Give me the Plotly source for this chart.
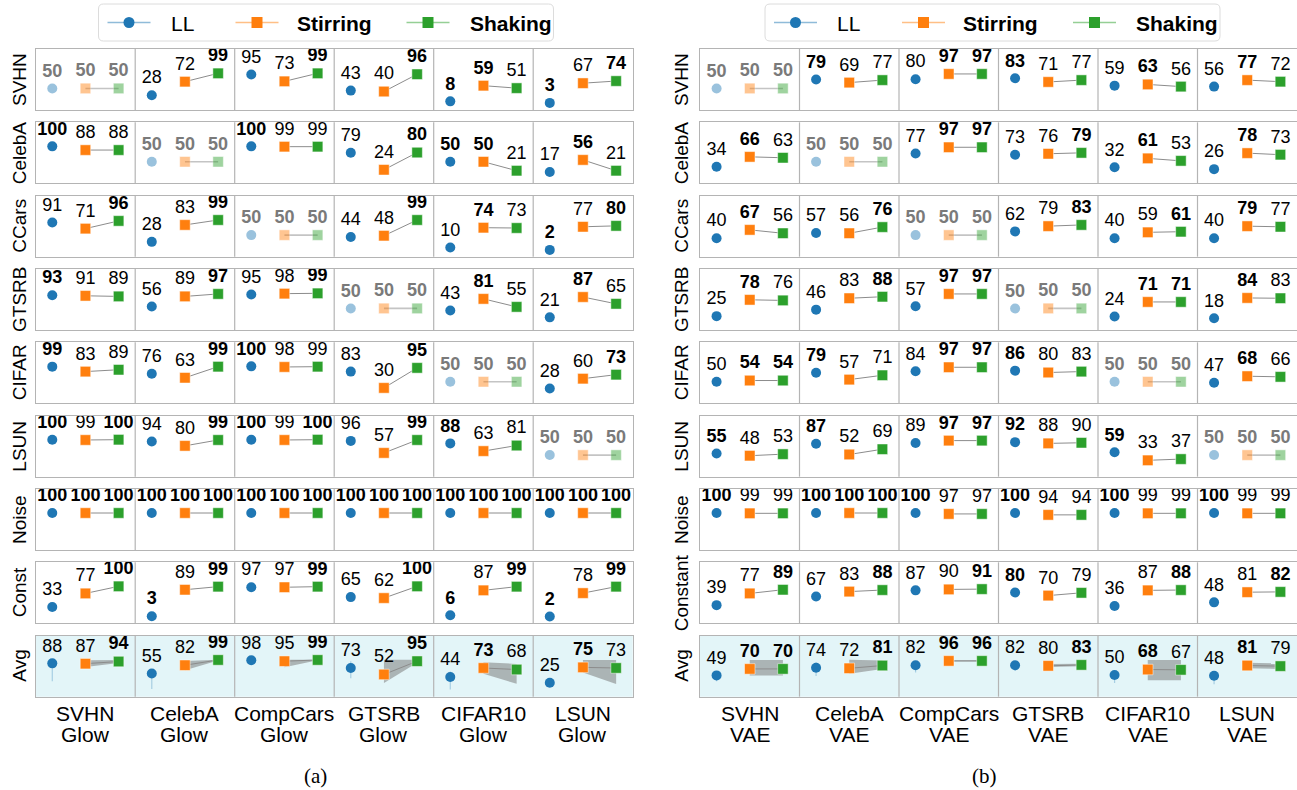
import plotly.graph_objects as go

# ---------------- data ----------------
row_names_glow = ["SVHN", "CelebA", "CCars", "GTSRB", "CIFAR", "LSUN", "Noise", "Const", "Avg"]
row_names_vae = ["SVHN", "CelebA", "CCars", "GTSRB", "CIFAR", "LSUN", "Noise", "Constant", "Avg"]
col_datasets = ["SVHN", "CelebA", "CompCars", "GTSRB", "CIFAR10", "LSUN"]
series_names = ["LL", "Stirring", "Shaking"]

# Glow: rows = test (OOD) set, columns = training set
ll_glow = [
    [50, 28, 95, 43, 8, 3],
    [100, 50, 100, 79, 50, 17],
    [91, 28, 50, 44, 10, 2],
    [93, 56, 95, 50, 43, 21],
    [99, 76, 100, 83, 50, 28],
    [100, 94, 100, 96, 88, 50],
    [100, 100, 100, 100, 100, 100],
    [33, 3, 97, 65, 6, 2],
    [88, 55, 98, 73, 44, 25],
]
stir_glow = [
    [50, 72, 73, 40, 59, 67],
    [88, 50, 99, 24, 50, 56],
    [71, 83, 50, 48, 74, 77],
    [91, 89, 98, 50, 81, 87],
    [83, 63, 98, 30, 50, 60],
    [99, 80, 99, 57, 63, 50],
    [100, 100, 100, 100, 100, 100],
    [77, 89, 97, 62, 87, 78],
    [87, 82, 95, 52, 73, 75],
]
shake_glow = [
    [50, 99, 99, 96, 51, 74],
    [88, 50, 99, 80, 21, 21],
    [96, 99, 50, 99, 73, 80],
    [89, 97, 99, 50, 55, 65],
    [89, 99, 99, 95, 50, 73],
    [100, 99, 100, 99, 81, 50],
    [100, 100, 100, 100, 100, 100],
    [100, 99, 99, 100, 99, 99],
    [94, 99, 99, 95, 68, 73],
]
# bold marks: L = LL, S = Stirring, K = Shaking
bold_glow = [
    ["", "K", "K", "K", "LS", "LK"],
    ["L", "", "L", "K", "LS", "S"],
    ["K", "K", "", "K", "S", "LK"],
    ["L", "K", "K", "", "S", "S"],
    ["L", "K", "L", "K", "", "K"],
    ["LK", "K", "LK", "K", "L", ""],
    ["LSK"] * 6,
    ["K", "LK", "K", "K", "LK", "LK"],
    ["K", "K", "K", "K", "S", "S"],
]
# spread of the averages: (stir lo, stir hi, shake lo, shake hi) and LL (lo, hi)
avg_band_glow = [(76, 98, 89, 99), (66, 96, 97, 100), (75, 100, 98, 100),
                 (24, 100, 90, 100), (54, 92, 22, 86), (58, 99, 21, 99)]
avg_ll_range_glow = [(30, 88), (5, 60), (90, 98), (40, 95), (3, 62), (15, 30)]

ll_vae = [
    [50, 79, 80, 83, 59, 56],
    [34, 50, 77, 73, 32, 26],
    [40, 57, 50, 62, 40, 40],
    [25, 46, 57, 50, 24, 18],
    [50, 79, 84, 86, 50, 47],
    [55, 87, 89, 92, 59, 50],
    [100, 100, 100, 100, 100, 100],
    [39, 67, 87, 80, 36, 48],
    [49, 74, 82, 82, 50, 48],
]
stir_vae = [
    [50, 69, 97, 71, 63, 77],
    [66, 50, 97, 76, 61, 78],
    [67, 56, 50, 79, 59, 79],
    [78, 83, 97, 50, 71, 84],
    [54, 57, 97, 80, 50, 68],
    [48, 52, 97, 88, 33, 50],
    [99, 100, 97, 94, 99, 99],
    [77, 83, 90, 70, 87, 81],
    [70, 72, 96, 80, 68, 81],
]
shake_vae = [
    [50, 77, 97, 77, 56, 72],
    [63, 50, 97, 79, 53, 73],
    [56, 76, 50, 83, 61, 77],
    [76, 88, 97, 50, 71, 83],
    [54, 71, 97, 83, 50, 66],
    [53, 69, 97, 90, 37, 50],
    [99, 100, 97, 94, 99, 99],
    [89, 88, 91, 79, 88, 82],
    [70, 81, 96, 83, 67, 79],
]
bold_vae = [
    ["", "L", "SK", "L", "S", "S"],
    ["S", "", "SK", "K", "S", "S"],
    ["S", "K", "", "K", "K", "S"],
    ["S", "K", "SK", "", "SK", "S"],
    ["SK", "L", "SK", "L", "", "S"],
    ["L", "L", "SK", "L", "L", ""],
    ["L", "LSK", "L", "L", "L", "L"],
    ["K", "K", "K", "L", "K", "K"],
    ["SK", "K", "SK", "K", "S", "S"],
]
avg_band_vae = [(49, 99, 49, 99), (54, 100, 70, 97), (94, 98, 94, 98),
                (76, 86, 79, 87), (33, 99, 33, 99), (72, 90, 70, 88)]
avg_ll_range_vae = [(30, 52), (47, 92), (58, 85), (63, 85), (24, 60), (20, 55)]

# ---------------- styling ----------------
W, H = 1297, 790
FONT = "Liberation Sans"
C_LL, C_ST, C_SH = "#1f77b4", "#ff7f0e", "#2ca02c"
LIGHT = ["rgba(31,119,180,0.5)", "rgba(255,127,14,0.5)", "rgba(44,160,44,0.5)"]
BORDER = "#b4b4b4"
AVG_BG = "#e3f5f8"
ROW_TOP0, ROW_PITCH, ROW_H = 49.0, 73.33, 61.0
Y_RANGE = [-20, 178]
X_RANGE = [-0.5, 17.5]

panels = [
    dict(model="Glow", rows=row_names_glow, ll=ll_glow, st=stir_glow, sh=shake_glow,
         bold=bold_glow, band=avg_band_glow, llr=avg_ll_range_glow,
         left=35.7, right=632.7, label_x=19.5, tag="(a)", tag_x=315, legend_left=98.5),
    dict(model="VAE", rows=row_names_vae, ll=ll_vae, st=stir_vae, sh=shake_vae,
         bold=bold_vae, band=avg_band_vae, llr=avg_ll_range_vae,
         left=700.0, right=1297.0, label_x=681.5, tag="(b)", tag_x=984, legend_left=765),
]

fig = go.Figure()
shapes, annotations = [], []


def px_x(v):
    return v / W


def px_y(v):
    return 1 - v / H


def fmt(v, bold):
    return f"<b>{v}</b>" if bold else str(v)


for p, P in enumerate(panels):
    for r, rname in enumerate(P["rows"]):
        k = p * 9 + r + 1
        xs = "x" if k == 1 else f"x{k}"
        ys = "y" if k == 1 else f"y{k}"
        top = ROW_TOP0 + ROW_PITCH * r
        bot = top + ROW_H
        fig.layout[("xaxis" if k == 1 else f"xaxis{k}")] = dict(
            domain=[px_x(P["left"]), px_x(P["right"])], range=X_RANGE, anchor=ys,
            showline=True, mirror=True, linecolor=BORDER, linewidth=1.2,
            showgrid=False, zeroline=False, showticklabels=False, ticks="")
        fig.layout[("yaxis" if k == 1 else f"yaxis{k}")] = dict(
            domain=[px_y(bot), px_y(top)], range=Y_RANGE, anchor=xs,
            showline=True, mirror=True, linecolor=BORDER, linewidth=1.2,
            showgrid=False, zeroline=False, showticklabels=False, ticks="")

        is_avg = r == 8
        if is_avg:
            shapes.append(dict(type="rect", xref=f"{xs} domain", yref=f"{ys} domain",
                               x0=0, x1=1, y0=0, y1=1, fillcolor=AVG_BG,
                               line=dict(width=0), layer="below"))
        for j in range(1, 6):
            shapes.append(dict(type="line", xref=xs, yref=f"{ys} domain",
                               x0=3 * j - 0.5, x1=3 * j - 0.5, y0=0, y1=1,
                               line=dict(color=BORDER, width=1.2)))

        # row label
        annotations.append(dict(text=rname, xref="paper", yref="paper",
                                x=px_x(P["label_x"]), y=px_y(top + ROW_H / 2),
                                textangle=-90, showarrow=False,
                                font=dict(family=FONT, size=19, color="black"),
                                xanchor="center", yanchor="middle"))

        ll, st, sh, bd = P["ll"][r], P["st"][r], P["sh"][r], P["bold"][r]
        diag = [(r == j) for j in range(6)]

        # spread bands for averages
        if is_avg:
            for j in range(6):
                slo, shi, klo, khi = P["band"][j]
                fig.add_trace(go.Scatter(
                    x=[3 * j + 1, 3 * j + 2, 3 * j + 2, 3 * j + 1, 3 * j + 1],
                    y=[shi, khi, klo, slo, shi], mode="lines", fill="toself",
                    fillcolor="rgba(125,125,125,0.55)", line=dict(width=0),
                    xaxis=xs, yaxis=ys, showlegend=False, hoverinfo="skip"))

        # connection Stirring -> Shaking
        lx, ly, dx, dy = [], [], [], []
        for j in range(6):
            if diag[j]:
                dx += [3 * j + 1, 3 * j + 2, None]
                dy += [st[j], sh[j], None]
            else:
                lx += [3 * j + 1, 3 * j + 2, None]
                ly += [st[j], sh[j], None]
        fig.add_trace(go.Scatter(x=lx, y=ly, mode="lines", line=dict(color="#8c8c8c", width=1),
                                 xaxis=xs, yaxis=ys, showlegend=False, hoverinfo="skip"))
        if dx:
            fig.add_trace(go.Scatter(x=dx, y=dy, mode="lines", line=dict(color="#c4c4c4", width=1.6),
                                     xaxis=xs, yaxis=ys, showlegend=False, hoverinfo="skip"))

        for s_idx, (vals, color, symbol, letter) in enumerate(
                [(ll, C_LL, "circle", "L"), (st, C_ST, "square", "S"), (sh, C_SH, "square", "K")]):
            texts = [fmt(v, diag[j] or (letter in bd[j])) for j, v in enumerate(vals)]
            tcol = ["#7a7a7a" if diag[j] else "black" for j in range(6)]
            opac = [0.45 if diag[j] else 1.0 for j in range(6)]
            tr = dict(
                x=[3 * j + s_idx for j in range(6)], y=vals, mode="markers+text",
                text=texts, textposition="top center",
                textfont=dict(family=FONT, size=18, color=tcol),
                marker=dict(symbol=symbol, size=10 if symbol == "circle" else 10.5, color=color,
                            opacity=opac,
                            line=dict(width=0.8 if symbol == "square" else 0,
                                      color="rgba(255,255,255,0.6)")),
                cliponaxis=False, xaxis=xs, yaxis=ys, showlegend=False, hoverinfo="skip")
            if is_avg and letter == "L":
                tr["error_y"] = dict(type="data", symmetric=False,
                                     array=[max(hi - v, 0) for (lo, hi), v in zip(P["llr"], vals)],
                                     arrayminus=[max(v - lo, 0) for (lo, hi), v in zip(P["llr"], vals)],
                                     color="rgba(31,119,180,0.3)", thickness=1.2, width=0)
            fig.add_trace(go.Scatter(**tr))

        # column labels under the last row
        if is_avg:
            for j, name in enumerate(col_datasets):
                for text, yy in [(name, 713), (P["model"], 734)]:
                    annotations.append(dict(text=text, xref=xs, yref="paper", x=3 * j + 1,
                                            y=px_y(yy), showarrow=False, xanchor="center",
                                            yanchor="middle",
                                            font=dict(family=FONT, size=21, color="black")))

    annotations.append(dict(text=P["tag"], xref="paper", yref="paper", x=px_x(P["tag_x"]),
                            y=px_y(776), showarrow=False, xanchor="center", yanchor="middle",
                            font=dict(family="Liberation Serif", size=21, color="black")))

    # legend box with line + marker glyphs
    B = P["legend_left"]
    top_l, bot_l, rad, wid = 4.0, 41.0, 5.0, 455.0
    x0, x1 = B, B + wid
    path = (f"M {px_x(x0 + rad)},{px_y(top_l)} L {px_x(x1 - rad)},{px_y(top_l)} "
            f"Q {px_x(x1)},{px_y(top_l)} {px_x(x1)},{px_y(top_l + rad)} "
            f"L {px_x(x1)},{px_y(bot_l - rad)} Q {px_x(x1)},{px_y(bot_l)} {px_x(x1 - rad)},{px_y(bot_l)} "
            f"L {px_x(x0 + rad)},{px_y(bot_l)} Q {px_x(x0)},{px_y(bot_l)} {px_x(x0)},{px_y(bot_l - rad)} "
            f"L {px_x(x0)},{px_y(top_l + rad)} Q {px_x(x0)},{px_y(top_l)} {px_x(x0 + rad)},{px_y(top_l)} Z")
    shapes.append(dict(type="path", xref="paper", yref="paper", path=path,
                       fillcolor="white", line=dict(color="#dcdcdc", width=1)))
    yc = (top_l + bot_l) / 2
    for i, (name, color, off_line, off_text) in enumerate(
            zip(series_names, [C_LL, C_ST, C_SH], [9, 137, 308], [70, 196, 369])):
        la, lb = B + off_line, B + off_line + 43
        mc = (la + lb) / 2
        shapes.append(dict(type="line", xref="paper", yref="paper", x0=px_x(la), x1=px_x(lb),
                           y0=px_y(yc), y1=px_y(yc), line=dict(color=LIGHT[i], width=1.5)))
        hs = 5.5
        shapes.append(dict(type="circle" if i == 0 else "rect", xref="paper", yref="paper",
                           x0=px_x(mc - hs), x1=px_x(mc + hs), y0=px_y(yc + hs), y1=px_y(yc - hs),
                           fillcolor=color, line=dict(width=0)))
        annotations.append(dict(text=name if i == 0 else f"<b>{name}</b>", xref="paper",
                                yref="paper", x=px_x(B + off_text), y=px_y(yc + 1),
                                xanchor="left", yanchor="middle", showarrow=False,
                                font=dict(family=FONT, size=21, color="black")))

fig.update_layout(
    width=W, height=H, margin=dict(l=0, r=0, t=0, b=0),
    paper_bgcolor="white", plot_bgcolor="rgba(0,0,0,0)",
    shapes=shapes, annotations=annotations, showlegend=False,
    font=dict(family=FONT),
)

fig.write_html("out.html")
